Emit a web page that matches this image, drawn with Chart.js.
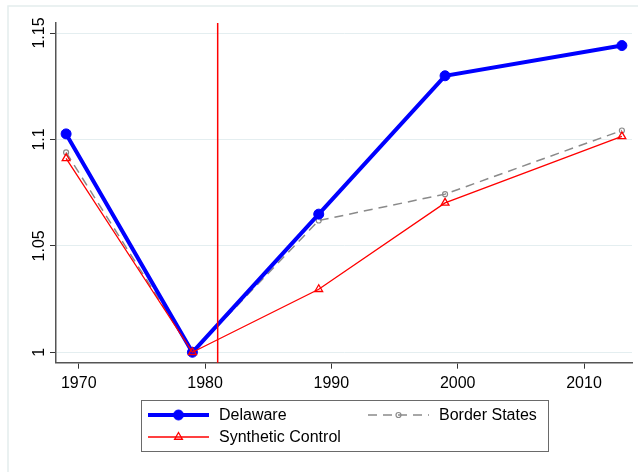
<!DOCTYPE html>
<html>
<head>
<meta charset="utf-8">
<script src="https://cdn.jsdelivr.net/npm/chart.js@4/dist/chart.umd.min.js"></script>
<style>
  html, body { margin: 0; padding: 0; background: #ffffff; }
  #wrap { width: 638px; height: 472px; position: relative; }
</style>
</head>
<body>
<div id="wrap"><canvas id="c" width="638" height="472"></canvas></div>
<script>
// Years observed and relative values (1979 = 1)
const years = [1969, 1979, 1989, 1999, 2013];
const delaware = [1.1026, 1.0, 1.0649, 1.1299, 1.1441];
const borderStates = [1.0939, 1.0, 1.0619, 1.0743, 1.1042];
const syntheticControl = [1.0911, 1.0, 1.0296, 1.0702, 1.1014];

// Axis ticks
const xTickYears = [1970, 1980, 1990, 2000, 2010];
const yTickValues = [1, 1.05, 1.1, 1.15];
const yTickLabels = ['1', '1.05', '1.1', '1.15'];

// Policy change year
const treatmentYear = 1981;

const FONT = '"Liberation Sans", Arial, sans-serif';

function toPoints(vals) {
  return years.map((yr, i) => ({ x: yr, y: vals[i] }));
}

// Light outer frame and red reference line
const decorations = {
  id: 'decorations',
  beforeDraw(chart) {
    const ctx = chart.ctx;
    ctx.save();
    ctx.strokeStyle = '#e4eded';
    ctx.lineWidth = 1.5;
    ctx.beginPath();
    ctx.moveTo(8, 472);
    ctx.lineTo(8, 6);
    ctx.lineTo(638, 6);
    ctx.stroke();
    ctx.restore();
  },
  afterDatasetsDraw(chart) {
    const ctx = chart.ctx;
    const xs = chart.scales.x;
    const area = chart.chartArea;
    const px = xs.getPixelForValue(treatmentYear);
    ctx.save();
    ctx.strokeStyle = '#ff0000';
    ctx.lineWidth = 1.5;
    ctx.beginPath();
    ctx.moveTo(px, area.top);
    ctx.lineTo(px, area.bottom);
    ctx.stroke();
    ctx.restore();
  }
};

// Boxed two-column legend below the axis
const boxLegend = {
  id: 'boxLegend',
  afterDraw(chart) {
    const ctx = chart.ctx;
    const ds = chart.data.datasets;
    ctx.save();
    ctx.strokeStyle = '#6a6a6a';
    ctx.lineWidth = 1;
    ctx.strokeRect(141.5, 400.5, 407, 51);

    const entries = [
      { d: ds[0], x: 148, y: 415 },
      { d: ds[2], x: 368, y: 415 },
      { d: ds[1], x: 148, y: 437 }
    ];
    entries.forEach(e => {
      const d = e.d;
      const x0 = e.x, x1 = e.x + 61, cx = (x0 + x1) / 2, y = e.y;
      ctx.strokeStyle = d.borderColor;
      ctx.lineWidth = d.borderWidth;
      ctx.setLineDash(d.borderDash || []);
      ctx.beginPath();
      ctx.moveTo(x0, y);
      ctx.lineTo(x1, y);
      ctx.stroke();
      ctx.setLineDash([]);
      ctx.lineWidth = d.pointBorderWidth;
      ctx.strokeStyle = d.pointBorderColor;
      ctx.fillStyle = d.pointBackgroundColor;
      const r = d.pointRadius;
      ctx.beginPath();
      if (d.pointStyle === 'triangle') {
        ctx.moveTo(cx, y - r);
        ctx.lineTo(cx + r * 0.866, y + r * 0.5);
        ctx.lineTo(cx - r * 0.866, y + r * 0.5);
        ctx.closePath();
      } else {
        ctx.arc(cx, y, r, 0, Math.PI * 2);
      }
      ctx.fill();
      ctx.stroke();
      ctx.fillStyle = '#000000';
      ctx.font = '16px ' + FONT;
      ctx.textBaseline = 'middle';
      ctx.textAlign = 'left';
      ctx.fillText(d.label, x1 + 10, y + 1);
    });
    ctx.restore();
  }
};

new Chart(document.getElementById('c'), {
  type: 'line',
  data: {
    datasets: [
      {
        label: 'Delaware',
        data: toPoints(delaware),
        borderColor: '#0000ff',
        backgroundColor: '#0000ff',
        borderWidth: 4,
        pointStyle: 'circle',
        pointRadius: 5,
        pointBorderWidth: 1,
        pointBorderColor: '#0000ff',
        pointBackgroundColor: '#0000ff',
        order: 1
      },
      {
        label: 'Synthetic Control',
        data: toPoints(syntheticControl),
        borderColor: '#ff0000',
        backgroundColor: '#ff0000',
        borderWidth: 1.3,
        pointStyle: 'triangle',
        pointRadius: 4.5,
        pointBorderWidth: 1.3,
        pointBorderColor: '#ff0000',
        pointBackgroundColor: 'rgba(255,255,255,0)',
        order: 0
      },
      {
        label: 'Border States',
        data: toPoints(borderStates),
        borderColor: '#8a8a8a',
        backgroundColor: '#8a8a8a',
        borderWidth: 1.5,
        borderDash: [9, 6],
        pointStyle: 'circle',
        pointRadius: 2.5,
        pointBorderWidth: 1.2,
        pointBorderColor: '#8a8a8a',
        pointBackgroundColor: 'rgba(255,255,255,0)',
        order: 2
      }
    ]
  },
  options: {
    responsive: false,
    animation: false,
    devicePixelRatio: 1,
    layout: { padding: { top: 23, right: 4, bottom: 0, left: 0 } },
    plugins: { legend: { display: false }, tooltip: { enabled: false } },
    elements: { line: { tension: 0 } },
    scales: {
      x: {
        type: 'linear',
        min: 1968.2,
        max: 2013.8,
        afterBuildTicks(scale) { scale.ticks = xTickYears.map(v => ({ value: v })); },
        afterFit(scale) { scale.height = 109.3; },
        grid: { drawOnChartArea: false, drawTicks: true, tickLength: 6, tickColor: '#333333', tickWidth: 1 },
        border: { color: '#555555', width: 1.5 },
        ticks: {
          color: '#000000',
          font: { family: FONT, size: 16 },
          padding: 5,
          maxRotation: 0,
          callback: v => String(v)
        }
      },
      y: {
        type: 'linear',
        min: 0.9951,
        max: 1.1547,
        afterBuildTicks(scale) { scale.ticks = yTickValues.map(v => ({ value: v })); },
        afterFit(scale) { scale.width = 56; },
        grid: { color: '#e4eef0', lineWidth: 1, drawTicks: true, tickLength: 6, tickColor: '#333333', tickWidth: 1 },
        border: { color: '#555555', width: 1.5 },
        ticks: {
          color: '#000000',
          font: { family: FONT, size: 16 },
          minRotation: 90,
          maxRotation: 90,
          crossAlign: 'center',
          padding: -5,
          callback: (v) => {
            const i = yTickValues.findIndex(t => Math.abs(t - v) < 1e-9);
            return i >= 0 ? yTickLabels[i] : '';
          }
        }
      }
    }
  },
  plugins: [decorations, boxLegend]
});
</script>
</body>
</html>
